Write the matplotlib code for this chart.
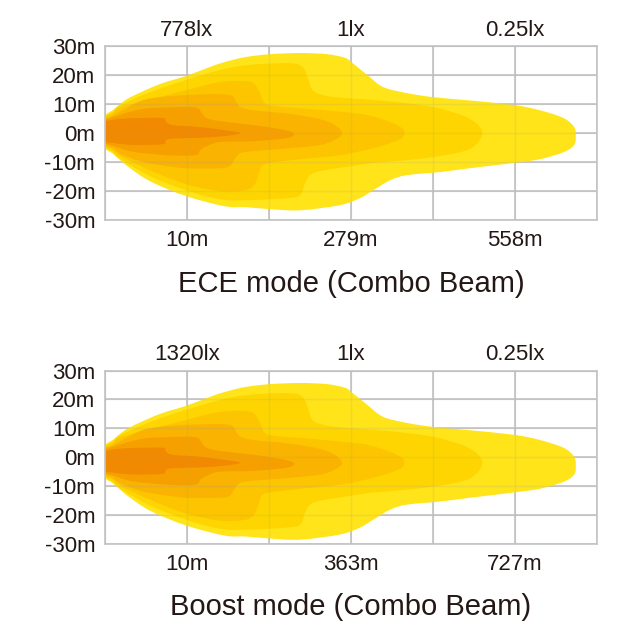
import numpy as np
import matplotlib
matplotlib.use("Agg")
from matplotlib import pyplot as plt
from matplotlib.path import Path
from matplotlib.patches import PathPatch

plt.rcParams["font.family"] = ["Liberation Sans", "DejaVu Sans"]

# Títulos e rótulos
modes = ["ECE mode (Combo Beam)", "Boost mode (Combo Beam)"]
lux_labels = [["778lx", "1lx", "0.25lx"], ["1320lx", "1lx", "0.25lx"]]
dist_labels = [["10m", "279m", "558m"], ["10m", "363m", "727m"]]
beam_shift = [0.0, -1.9]  # deslocamento vertical do feixe (m)
y_ticks = [30, 20, 10, 0, -10, -20, -30]
y_labels = ["30m", "20m", "10m", "0m", "-10m", "-20m", "-30m"]

# Contornos (x em colunas da grade, y em metros), do mais fraco ao mais forte
l1_x = [-0.03, 0.0, .10, .21, .34, .67, .99, 1.28, 1.46, 1.71, 2.01, 2.38, 2.71, 2.93, 3.02,
        3.20, 3.39, 3.68, 4.00, 4.39, 4.98, 5.30, 5.59, 5.72, 5.74, 5.72, 5.59, 5.30, 4.98,
        4.45, 4.09, 3.68, 3.48, 3.27, 3.11, 2.87, 2.38, 2.01, 1.71, 1.46, .99, .55, .27, .10, 0.0]
l1_y = [0.6, 5.9, 8.0, 10.6, 12.8, 16.9, 19.7, 22.8, 24.5, 26.2, 27.2, 27.6, 27.2, 25.9, 24.1,
        20.0, 15.9, 13.8, 12.4, 11.4, 9.7, 7.9, 5.2, 2.1, -1.0, -4.1, -6.6, -9.0, -10.3,
        -12.1, -13.4, -14.5, -16.2, -19.7, -22.4, -24.8, -26.6, -26.2, -25.5, -25.2, -21.7,
        -16.6, -11.3, -7.2, -5.0]

l2_x = [-0.03, 0.0, .10, .18, .55, .99, 1.40, 1.72, 2.13, 2.34, 2.43, 2.48, 2.54, 2.71, 2.93,
        3.27, 3.68, 4.00, 4.24, 4.41, 4.55, 4.60, 4.55, 4.41, 4.09, 3.68, 3.27, 2.93, 2.62,
        2.50, 2.44, 2.38, 2.22, 1.77, 1.40, .99, .55, .18, .10, 0.0]
l2_y = [0.6, 5.5, 7.4, 9.5, 14.1, 18.3, 21.7, 23.4, 24.1, 23.8, 22.1, 18.3, 14.5, 12.8, 12.1,
        11.4, 10.3, 9.0, 7.2, 5.5, 2.8, 0.0, -3.1, -5.9, -7.9, -9.3, -10.3, -11.7, -13.1,
        -14.5, -17.2, -21.4, -22.4, -23.1, -22.8, -19.7, -14.8, -8.8, -6.6, -4.6]

l3_x = [-0.03, 0.0, .10, .18, .55, .99, 1.40, 1.73, 1.83, 1.89, 1.95, 2.07, 2.38, 2.93, 3.20,
        3.48, 3.62, 3.65, 3.62, 3.51, 3.27, 2.87, 2.38, 2.01, 1.91, 1.87, 1.82, 1.71, 1.40,
        .99, .55, .18, .10, 0.0]
l3_y = [0.6, 5.1, 6.8, 8.8, 11.6, 14.8, 17.6, 17.9, 16.6, 13.8, 10.3, 9.3, 8.6, 7.2, 6.2,
        3.8, 1.7, 0.0, -1.7, -3.1, -5.2, -7.6, -9.0, -10.3, -11.4, -14.5, -17.9, -19.7,
        -20.0, -17.6, -12.8, -7.8, -5.9, -4.2]

l4_x = [-0.03, 0.0, .10, .43, .67, .99, 1.40, 1.55, 1.60, 1.65, 1.80, 2.26, 2.62, 2.80, 2.89,
        2.80, 2.62, 2.26, 1.80, 1.65, 1.59, 1.52, 1.40, .99, .67, .43, .18, .10, 0.0]
l4_y = [0.6, 4.7, 6.1, 11.0, 12.4, 13.1, 13.4, 12.8, 10.7, 9.0, 7.9, 6.6, 4.8, 2.8, 0.0,
        -2.4, -4.1, -5.2, -6.2, -6.9, -8.6, -11.4, -12.1, -12.1, -11.0, -9.7, -7.0, -5.2, -3.8]

l5_x = [-0.03, 0.0, .10, .34, .55, .99, 1.13, 1.18, 1.24, 1.40, 1.80, 2.13, 2.30, 2.22, 1.80,
        1.40, 1.24, 1.16, 1.10, .76, .34, .10, 0.0]
l5_y = [0.6, 4.3, 5.5, 7.6, 8.6, 9.0, 8.6, 6.9, 5.2, 4.1, 2.8, 1.4, 0.0, -1.7, -2.8,
        -3.1, -4.5, -5.9, -7.6, -7.6, -6.4, -4.4, -3.3]

l6_x = [-0.03, 0.0, .10, .24, .43, .71, .74, .82, 1.16, 1.46, 1.65, 1.46, 1.16, .82, .74,
        .71, .43, .24, .10, 0.0]
l6_y = [0.5, 3.8, 4.6, 5.0, 5.2, 5.2, 4.1, 2.8, 2.1, 1.0, 0.0, -1.0, -1.6, -1.9, -2.6,
        -3.8, -4.1, -3.9, -3.4, -2.8]

layers = [(l1_x, l1_y), (l2_x, l2_y), (l3_x, l3_y), (l4_x, l4_y), (l5_x, l5_y), (l6_x, l6_y)]
colors = ["#FFE419", "#FED500", "#FCC500", "#F9B300", "#F6A000", "#F18A00"]


def beam_path(xs, ys, dy):
    # contorno fechado suavizado (Catmull-Rom -> Bezier cúbica)
    pts = np.column_stack([xs, np.asarray(ys) + dy])
    n = len(pts)
    verts = [pts[0]]
    codes = [Path.MOVETO]
    for i in range(n):
        p0, p1, p2, p3 = pts[i - 1], pts[i], pts[(i + 1) % n], pts[(i + 2) % n]
        verts += [p1 + (p2 - p0) / 6, p2 - (p3 - p1) / 6, p2]
        codes += [Path.CURVE4] * 3
    return Path(verts, codes)


txt = "#231815"
grid_c = "#c8c8c8"
fig = plt.figure(figsize=(6.4, 6.4), dpi=100)
rects = [[0.164, 0.656, 0.769, 0.272], [0.164, 0.150, 0.769, 0.271]]

for k in range(2):
    ax = fig.add_axes(rects[k])
    ax.set_xlim(0, 6)
    ax.set_ylim(-30, 30)
    for (xs, ys), c in zip(layers, colors):
        ax.add_patch(PathPatch(beam_path(xs, ys, beam_shift[k]), facecolor=c,
                               edgecolor="none", zorder=2))
    ax.set_xticks(range(7))
    ax.set_xticklabels(["", dist_labels[k][0], "", dist_labels[k][1], "", dist_labels[k][2], ""])
    ax.set_yticks(y_ticks)
    ax.set_yticklabels(y_labels)
    ax.set_axisbelow(True)
    ax.grid(color=grid_c, lw=1.3)
    ax.vlines(range(7), -30, 30, color="#a0a0a0", lw=1.0, alpha=0.18, zorder=3)
    ax.hlines(y_ticks, 0, 6, color="#a0a0a0", lw=1.0, alpha=0.18, zorder=3)
    for s in ax.spines.values():
        s.set_color(grid_c)
        s.set_linewidth(1.3)
    ax.tick_params(length=0, labelsize=16, colors=txt, pad=7)
    ax.tick_params(axis="y", pad=7)
    top = ax.secondary_xaxis("top")
    top.set_xticks(range(7))
    top.set_xticklabels(["", lux_labels[k][0], "", lux_labels[k][1], "", lux_labels[k][2], ""])
    top.tick_params(length=0, labelsize=16, colors=txt, pad=4)
    top.spines["top"].set_visible(False)
    ax.text(0.5, -0.365, modes[k], transform=ax.transAxes, ha="center", va="center",
            fontsize=21, color=txt)

fig.savefig("out.png", dpi=100, facecolor="white")
